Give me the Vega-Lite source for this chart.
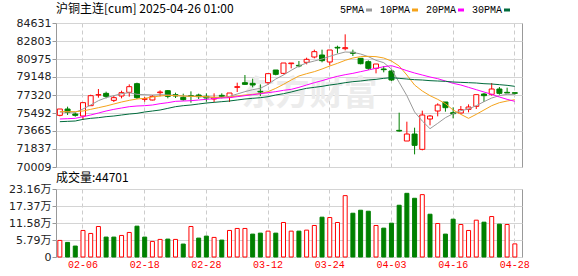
{
  "$schema": "https://vega.github.io/schema/vega-lite/v6.json",
  "background": "white",
  "padding": {"left": 8, "top": 2, "right": 2, "bottom": 2},
  "bounds": "flush",
  "spacing": 22,
  "config": {
    "view": {"stroke": "#999999", "strokeWidth": 1},
    "axis": {"labelFont": "DejaVu Sans", "labelFontSize": 11, "labelColor": "#222222", "titleFontSize": 11, "labelOverlap": false}
  },
  "resolve": {"scale": {"y": "independent", "x": "independent", "color": "independent"}},
  "datasets": {
    "k": [
      {"d":"01-24","o":75254,"h":75897,"l":75153,"c":75897,"v":56500,"vd":"u","5PMA":75593,"10PMA":75627,"20PMA":74882,"30PMA":74611},
      {"d":"01-27","o":75897,"h":76134,"l":75288,"c":75559,"v":49700,"vd":"d","5PMA":75593,"10PMA":75627,"20PMA":74916,"30PMA":74645},
      {"d":"02-05","o":75389,"h":75559,"l":75119,"c":75254,"v":37300,"vd":"d","5PMA":75559,"10PMA":75627,"20PMA":74950,"30PMA":74679},
      {"d":"02-06","o":75186,"h":76541,"l":74780,"c":76541,"v":90400,"vd":"u","5PMA":75897,"10PMA":75694,"20PMA":75119,"30PMA":74848},
      {"d":"02-07","o":76236,"h":77353,"l":76236,"c":77251,"v":80200,"vd":"u","5PMA":76304,"10PMA":75863,"20PMA":75288,"30PMA":74950},
      {"d":"02-10","o":77320,"h":77928,"l":77048,"c":77353,"v":103900,"vd":"u","5PMA":76743,"10PMA":76033,"20PMA":75491,"30PMA":75017},
      {"d":"02-11","o":77488,"h":77658,"l":76981,"c":77183,"v":67800,"vd":"d","5PMA":77048,"10PMA":76202,"20PMA":75694,"30PMA":75119},
      {"d":"02-12","o":76777,"h":77251,"l":76608,"c":77048,"v":67800,"vd":"d","5PMA":77251,"10PMA":76405,"20PMA":75863,"30PMA":75186},
      {"d":"02-13","o":77217,"h":77759,"l":76981,"c":77556,"v":73400,"vd":"u","5PMA":77454,"10PMA":76608,"20PMA":75999,"30PMA":75288},
      {"d":"02-14","o":77590,"h":78402,"l":77150,"c":78165,"v":83600,"vd":"u","5PMA":77556,"10PMA":76777,"20PMA":76134,"30PMA":75389},
      {"d":"02-17","o":78470,"h":78571,"l":76913,"c":77048,"v":105000,"vd":"d","5PMA":77387,"10PMA":76913,"20PMA":76202,"30PMA":75457},
      {"d":"02-18","o":76879,"h":77116,"l":76642,"c":76947,"v":67800,"vd":"d","5PMA":77353,"10PMA":76981,"20PMA":76236,"30PMA":75593},
      {"d":"02-19","o":76811,"h":77319,"l":76777,"c":77183,"v":53100,"vd":"u","5PMA":77319,"10PMA":77116,"20PMA":76304,"30PMA":75694},
      {"d":"02-20","o":77556,"h":77793,"l":77183,"c":77624,"v":59900,"vd":"u","5PMA":77353,"10PMA":77217,"20PMA":76439,"30PMA":75796},
      {"d":"02-21","o":77759,"h":77827,"l":76981,"c":77183,"v":61000,"vd":"d","5PMA":77319,"10PMA":77285,"20PMA":76541,"30PMA":75965},
      {"d":"02-24","o":77353,"h":77556,"l":77014,"c":77217,"v":59900,"vd":"u","5PMA":77285,"10PMA":77251,"20PMA":76676,"30PMA":76134},
      {"d":"02-25","o":77082,"h":77454,"l":76743,"c":76845,"v":44100,"vd":"d","5PMA":77217,"10PMA":77217,"20PMA":76710,"30PMA":76236},
      {"d":"02-26","o":77251,"h":77691,"l":76540,"c":77183,"v":103900,"vd":"u","5PMA":77183,"10PMA":77183,"20PMA":76743,"30PMA":76304},
      {"d":"02-27","o":77319,"h":77454,"l":76913,"c":77150,"v":64400,"vd":"d","5PMA":77150,"10PMA":77183,"20PMA":76811,"30PMA":76405},
      {"d":"02-28","o":77183,"h":77488,"l":76642,"c":77014,"v":71200,"vd":"d","5PMA":77116,"10PMA":77150,"20PMA":76879,"30PMA":76507},
      {"d":"03-03","o":76913,"h":77488,"l":76608,"c":77048,"v":66700,"vd":"u","5PMA":77082,"10PMA":77082,"20PMA":76947,"30PMA":76574},
      {"d":"03-04","o":77285,"h":77488,"l":76981,"c":77183,"v":57600,"vd":"d","5PMA":77082,"10PMA":77082,"20PMA":77014,"30PMA":76642},
      {"d":"03-05","o":77082,"h":77522,"l":76608,"c":77522,"v":90400,"vd":"u","5PMA":77183,"10PMA":77116,"20PMA":77048,"30PMA":76710},
      {"d":"03-06","o":78097,"h":78571,"l":77624,"c":78165,"v":97200,"vd":"u","5PMA":77420,"10PMA":77217,"20PMA":77150,"30PMA":76811},
      {"d":"03-07","o":78571,"h":79350,"l":78334,"c":78402,"v":97200,"vd":"u","5PMA":77658,"10PMA":77319,"20PMA":77251,"30PMA":76913},
      {"d":"03-10","o":78504,"h":78978,"l":78097,"c":78334,"v":78000,"vd":"d","5PMA":77860,"10PMA":77387,"20PMA":77353,"30PMA":76981},
      {"d":"03-11","o":77691,"h":78402,"l":77217,"c":77624,"v":81300,"vd":"d","5PMA":77996,"10PMA":77454,"20PMA":77454,"30PMA":77048},
      {"d":"03-12","o":78571,"h":79486,"l":78334,"c":79486,"v":88100,"vd":"u","5PMA":78402,"10PMA":77658,"20PMA":77556,"30PMA":77150},
      {"d":"03-13","o":79858,"h":79858,"l":79316,"c":79418,"v":81300,"vd":"d","5PMA":78944,"10PMA":77996,"20PMA":77658,"30PMA":77319},
      {"d":"03-14","o":79519,"h":80569,"l":79418,"c":80569,"v":117500,"vd":"u","5PMA":79350,"10PMA":78402,"20PMA":77793,"30PMA":77454},
      {"d":"03-17","o":80501,"h":80569,"l":80027,"c":80569,"v":88100,"vd":"u","5PMA":79824,"10PMA":78842,"20PMA":77894,"30PMA":77624},
      {"d":"03-18","o":80332,"h":80772,"l":80129,"c":80264,"v":88100,"vd":"d","5PMA":80264,"10PMA":79248,"20PMA":78097,"30PMA":77827},
      {"d":"03-19","o":80636,"h":81110,"l":80433,"c":80941,"v":91500,"vd":"u","5PMA":80569,"10PMA":79485,"20PMA":78335,"30PMA":77996},
      {"d":"03-20","o":81178,"h":81923,"l":81043,"c":81720,"v":107300,"vd":"u","5PMA":80772,"10PMA":79689,"20PMA":78571,"30PMA":78097},
      {"d":"03-21","o":81381,"h":81923,"l":80636,"c":80806,"v":135600,"vd":"d","5PMA":80975,"10PMA":79959,"20PMA":78775,"30PMA":78199},
      {"d":"03-24","o":80670,"h":81889,"l":80332,"c":81889,"v":134400,"vd":"u","5PMA":81246,"10PMA":80264,"20PMA":79011,"30PMA":78335},
      {"d":"03-25","o":82160,"h":82329,"l":81550,"c":82092,"v":117500,"vd":"u","5PMA":81483,"10PMA":80535,"20PMA":79215,"30PMA":78436},
      {"d":"03-26","o":82024,"h":83480,"l":81855,"c":82126,"v":209000,"vd":"u","5PMA":81686,"10PMA":80839,"20PMA":79384,"30PMA":78571},
      {"d":"03-27","o":81652,"h":81923,"l":81279,"c":81550,"v":149100,"vd":"d","5PMA":81652,"10PMA":81076,"20PMA":79519,"30PMA":78673},
      {"d":"03-28","o":81043,"h":81043,"l":80433,"c":80501,"v":159300,"vd":"d","5PMA":81483,"10PMA":81212,"20PMA":79689,"30PMA":78741},
      {"d":"03-31","o":80704,"h":80839,"l":79858,"c":80027,"v":155900,"vd":"d","5PMA":81212,"10PMA":81246,"20PMA":79858,"30PMA":78842},
      {"d":"04-01","o":80027,"h":80467,"l":79519,"c":80467,"v":107300,"vd":"u","5PMA":80839,"10PMA":81212,"20PMA":80027,"30PMA":78910},
      {"d":"04-02","o":79959,"h":80264,"l":79621,"c":79892,"v":98300,"vd":"d","5PMA":80602,"10PMA":81076,"20PMA":80196,"30PMA":79011},
      {"d":"04-03","o":79756,"h":79926,"l":78741,"c":78842,"v":115200,"vd":"d","5PMA":79950,"10PMA":80772,"20PMA":80298,"30PMA":79079},
      {"d":"04-07","o":73731,"h":75525,"l":73596,"c":73664,"v":176300,"vd":"d","5PMA":78600,"10PMA":80264,"20PMA":80061,"30PMA":79011},
      {"d":"04-08","o":72648,"h":74611,"l":72648,"c":73358,"v":216900,"vd":"d","5PMA":77250,"10PMA":79350,"20PMA":79790,"30PMA":78944},
      {"d":"04-09","o":73358,"h":74002,"l":71293,"c":72208,"v":200000,"vd":"d","5PMA":75600,"10PMA":78335,"20PMA":79553,"30PMA":78876},
      {"d":"04-10","o":71801,"h":75728,"l":71700,"c":75288,"v":212400,"vd":"u","5PMA":74679,"10PMA":77725,"20PMA":79350,"30PMA":78842},
      {"d":"04-11","o":74882,"h":75288,"l":74239,"c":75186,"v":145700,"vd":"d","5PMA":73900,"10PMA":77251,"20PMA":79147,"30PMA":78775},
      {"d":"04-14","o":75694,"h":76473,"l":75153,"c":76304,"v":114100,"vd":"u","5PMA":74442,"10PMA":76879,"20PMA":78978,"30PMA":78741},
      {"d":"04-15","o":76608,"h":76608,"l":75626,"c":76033,"v":78000,"vd":"d","5PMA":75017,"10PMA":76439,"20PMA":78741,"30PMA":78707},
      {"d":"04-16","o":75525,"h":76067,"l":74950,"c":75423,"v":128800,"vd":"d","5PMA":75423,"10PMA":75796,"20PMA":78504,"30PMA":78639},
      {"d":"04-17","o":75491,"h":76202,"l":75423,"c":75830,"v":110700,"vd":"u","5PMA":75728,"10PMA":75356,"20PMA":78335,"30PMA":78605},
      {"d":"04-18","o":75863,"h":76371,"l":75559,"c":76101,"v":90400,"vd":"u","5PMA":75897,"10PMA":74950,"20PMA":78097,"30PMA":78571},
      {"d":"04-21","o":76168,"h":77353,"l":75897,"c":77353,"v":125400,"vd":"u","5PMA":76236,"10PMA":75356,"20PMA":77860,"30PMA":78538},
      {"d":"04-22","o":77420,"h":77522,"l":76608,"c":77251,"v":118600,"vd":"d","5PMA":76642,"10PMA":75796,"20PMA":77624,"30PMA":78470},
      {"d":"04-23","o":77387,"h":78537,"l":77251,"c":77928,"v":137800,"vd":"u","5PMA":77014,"10PMA":76236,"20PMA":77387,"30PMA":78436},
      {"d":"04-24","o":77928,"h":78131,"l":77353,"c":77488,"v":111900,"vd":"d","5PMA":77251,"10PMA":76541,"20PMA":77116,"30PMA":78369},
      {"d":"04-25","o":77590,"h":78063,"l":77522,"c":77522,"v":110700,"vd":"u","5PMA":77387,"10PMA":76710,"20PMA":76879,"30PMA":78301},
      {"d":"04-28","o":77556,"h":77556,"l":77353,"c":77488,"v":44701,"vd":"u","5PMA":77387,"10PMA":76845,"20PMA":76676,"30PMA":78199}
    ]
  },
  "vconcat": [
    {
      "width": 466,
      "height": 144,
      "data": {"name": "k"},
      "title": {"text": "沪铜主连[cum] 2025-04-26 01:00", "anchor": "start", "frame": "group", "font": "Noto Sans CJK SC", "fontSize": 12, "fontWeight": "normal", "color": "#000000", "offset": -11},
      "encoding": {
        "x": {
          "field": "d", "type": "ordinal",
          "scale": {"type": "band", "domain": ["01-24","01-27","02-05","02-06","02-07","02-10","02-11","02-12","02-13","02-14","02-17","02-18","02-19","02-20","02-21","02-24","02-25","02-26","02-27","02-28","03-03","03-04","03-05","03-06","03-07","03-10","03-11","03-12","03-13","03-14","03-17","03-18","03-19","03-20","03-21","03-24","03-25","03-26","03-27","03-28","03-31","04-01","04-02","04-03","04-07","04-08","04-09","04-10","04-11","04-14","04-15","04-16","04-17","04-18","04-21","04-22","04-23","04-24","04-25","04-28"], "paddingInner": 0, "paddingOuter": 0.215, "align": 0},
          "axis": {"values": ["02-06","02-18","02-28","03-12","03-24","04-03","04-16","04-28"], "labels": false, "ticks": false, "domain": false, "grid": true, "gridDash": [4, 3], "gridColor": "#cccccc", "bandPosition": 0.5, "title": null}
        }
      },
      "layer": [
        {
          "data": {"values": [{"t": "东方财富", "p": 77320, "d": "03-19"}]},
          "mark": {"type": "text", "font": "Noto Sans CJK SC", "fontSize": 34, "fontWeight": "bold", "color": "#ececec", "dx": 3},
          "encoding": {
            "y": {"field": "p", "type": "quantitative", "scale": {"domain": [70009, 84631], "nice": false, "zero": false},
              "axis": {"values": [70009, 71837, 73665, 75492, 77320, 79148, 80975, 82803, 84631], "tickCount": 9, "format": "d", "title": null, "grid": true, "gridColor": "#d4d4d4", "domain": false, "tickSize": 4, "tickColor": "#999999", "labelPadding": 1, "labelOverlap": false}},
            "text": {"field": "t"}
          }
        },
        {
          "mark": {"type": "rule", "strokeWidth": 1},
          "encoding": {
            "y": {"field": "l", "type": "quantitative",
              "axis": {"values": [70009, 71837, 73665, 75492, 77320, 79148, 80975, 82803, 84631], "tickCount": 9, "format": "d", "title": null, "grid": true, "gridColor": "#d4d4d4", "domain": false, "tickSize": 4, "tickColor": "#999999", "labelPadding": 1, "labelOverlap": false}},
            "y2": {"field": "h"},
            "color": {"condition": {"test": "datum.c >= datum.o", "value": "#ff0000"}, "value": "#008000"}
          }
        },
        {
          "mark": {"type": "bar", "width": 5, "strokeWidth": 1},
          "encoding": {
            "y": {"field": "o", "type": "quantitative",
              "axis": {"values": [70009, 71837, 73665, 75492, 77320, 79148, 80975, 82803, 84631], "tickCount": 9, "format": "d", "title": null, "grid": true, "gridColor": "#d4d4d4", "domain": false, "tickSize": 4, "tickColor": "#999999", "labelPadding": 1, "labelOverlap": false}},
            "y2": {"field": "c"},
            "fill": {"condition": {"test": "datum.c >= datum.o", "value": "#ffffff"}, "value": "#008000"},
            "stroke": {"condition": {"test": "datum.c >= datum.o", "value": "#ff0000"}, "value": "#008000"}
          }
        },
        {
          "transform": [{"fold": ["5PMA", "10PMA", "20PMA", "30PMA"], "as": ["ma", "val"]}],
          "mark": {"type": "line", "strokeWidth": 1},
          "encoding": {
            "y": {"field": "val", "type": "quantitative",
              "axis": {"values": [70009, 71837, 73665, 75492, 77320, 79148, 80975, 82803, 84631], "tickCount": 9, "format": "d", "title": null, "grid": true, "gridColor": "#d4d4d4", "domain": false, "tickSize": 4, "tickColor": "#999999", "labelPadding": 1, "labelOverlap": false}},
            "color": {
              "field": "ma", "type": "nominal",
              "scale": {"domain": ["5PMA", "10PMA", "20PMA", "30PMA"], "range": ["#9a9a9a", "#f5a31a", "#ff00ff", "#006b3c"]},
              "legend": {"orient": "none", "legendX": 308, "legendY": -18, "direction": "horizontal", "title": null, "symbolType": "stroke", "symbolSize": 36, "symbolStrokeWidth": 3, "labelAlign": "right", "labelOffset": -10, "labelFont": "Liberation Mono", "labelFontSize": 10, "labelColor": "#000000", "columnPadding": 1, "padding": 0}
            }
          }
        }
      ]
    },
    {
      "width": 466,
      "height": 68,
      "data": {"name": "k"},
      "title": {"text": "成交量:44701", "anchor": "start", "frame": "group", "font": "Noto Sans CJK SC", "fontSize": 12, "fontWeight": "normal", "color": "#000000", "offset": -2},
      "mark": {"type": "bar", "width": 4, "strokeWidth": 1},
      "encoding": {
        "x": {
          "field": "d", "type": "ordinal",
          "scale": {"type": "band", "domain": ["01-24","01-27","02-05","02-06","02-07","02-10","02-11","02-12","02-13","02-14","02-17","02-18","02-19","02-20","02-21","02-24","02-25","02-26","02-27","02-28","03-03","03-04","03-05","03-06","03-07","03-10","03-11","03-12","03-13","03-14","03-17","03-18","03-19","03-20","03-21","03-24","03-25","03-26","03-27","03-28","03-31","04-01","04-02","04-03","04-07","04-08","04-09","04-10","04-11","04-14","04-15","04-16","04-17","04-18","04-21","04-22","04-23","04-24","04-25","04-28"], "paddingInner": 0, "paddingOuter": 0.215, "align": 0},
          "axis": {"values": ["02-06","02-18","02-28","03-12","03-24","04-03","04-16","04-28"], "labelAngle": 0, "labelColor": "#ff0000", "labelFont": "Liberation Mono", "labelFontSize": 10, "labelPadding": 2, "ticks": false, "domain": false, "grid": true, "gridDash": [4, 3], "gridColor": "#cccccc", "bandPosition": 0.5, "title": null}
        },
        "y": {
          "field": "v", "type": "quantitative",
          "scale": {"domain": [0, 231600], "nice": false},
          "axis": {"values": [0, 57900, 115800, 173700, 231600], "tickCount": 5, "labelExpr": "datum.value == 0 ? '0' : format(datum.value / 10000, '.2f') + '万'", "labelFont": "DejaVu Sans, Noto Sans CJK SC", "title": null, "grid": true, "gridColor": "#d4d4d4", "domain": false, "tickSize": 4, "tickColor": "#999999", "labelPadding": 1, "labelOverlap": false}
        },
        "fill": {"condition": {"test": "datum.vd == 'u'", "value": "#ffffff"}, "value": "#008000"},
        "stroke": {"condition": {"test": "datum.vd == 'u'", "value": "#ff0000"}, "value": "#008000"}
      }
    }
  ]
}
